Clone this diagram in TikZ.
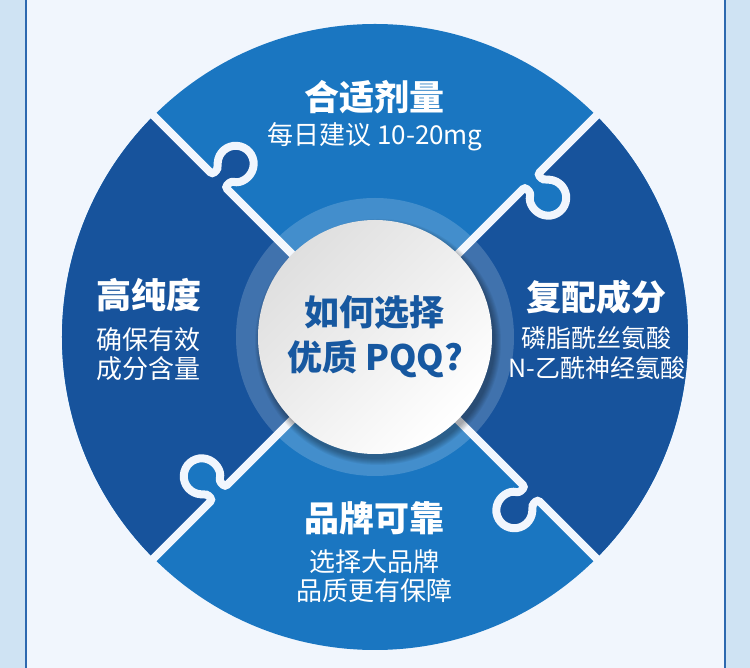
\documentclass[tikz,border=0pt]{standalone}
\usepackage{fontspec}
\newfontfamily\cjk{Noto Sans CJK SC}
\usetikzlibrary{shadows}

\definecolor{cornice}{RGB}{207,227,243}
\definecolor{sfondo}{RGB}{241,246,253}
\definecolor{bordo}{RGB}{45,105,175}
\definecolor{chiaro}{RGB}{26,118,193}
\definecolor{scuro}{RGB}{23,83,156}
\definecolor{testoblu}{RGB}{23,88,160}

\tikzset{
  titolo/.style={text=white, font=\cjk\bfseries\fontsize{35}{40}\selectfont, align=center},
  sotto/.style={text=white, font=\cjk\fontsize{26}{29}\selectfont, align=center},
}

\begin{document}
\begin{tikzpicture}[x=1pt, y=1pt]
    \useasboundingbox (-375,-331) rectangle (375,337);
    % cornice e pannello
    \fill[cornice] (-375,-331) rectangle (375,337);
    \fill[sfondo] (-349,-331) rectangle (350,337);
    \draw[bordo, line width=1.2] (-349,-331) -- (-349,337);
    \draw[bordo, line width=1.2] (350,-331) -- (350,337);

    % cerchio grande diviso in quattro pezzi di puzzle
    \fill[chiaro] (0,0) circle (313);
    \fill[scuro] (0,0) -- (135:313) arc[start angle=135, end angle=225, radius=313] -- cycle;
    \fill[scuro] (0,0) -- (-45:313) arc[start angle=-45, end angle=45, radius=313] -- cycle;
    \foreach \a/\c in {45/chiaro, 135/scuro, 225/chiaro, 315/scuro}
      \fill[\c, rotate=\a] (212,2) -- (212,-8.4) arc[start angle=120, end angle=420, radius=18] -- (230,2) -- cycle;
    \foreach \a in {45, 135, 225, 315}
      \draw[sfondo, line width=8, rounded corners=3, rotate=\a] (0,0) -- (212,0) -- (212,-8.4)
        arc[start angle=120, end angle=420, radius=18] -- (230,0) -- (330,0);

    % anello e cerchio centrale
    \fill[white, opacity=0.18] (0,0) circle (139);
    \foreach \r in {0,...,6}
      \fill[black, opacity=0.05] (3,-5) circle (117+\r);
    \node (centro) [circle, minimum size=234, inner sep=0, top color=gray!25, bottom color=white,
      shading angle=45, text=testoblu, font=\cjk\bfseries\fontsize{35}{45}\selectfont, align=center]
      at (0,0) {如何选择\\优质 PQQ?};

    % testi dei quattro pezzi
    \node[titolo] (titoloalto) at (0,240) {合适剂量};
    \node[sotto] (sottoalto) at (0,200) {每日建议 10-20mg};
    \node[titolo] (titolosx) at (-226,42) {高纯度};
    \node[sotto] (sottosx) at (-226,-17) {确保有效\\成分含量};
    \node[titolo] (titolodx) at (221,40) {复配成分};
    \node[sotto, font=\cjk\fontsize{25}{30}\selectfont] (sottodx) at (222,-16) {磷脂酰丝氨酸\\N-乙酰神经氨酸};
    \node[titolo] (titolobasso) at (0,-181) {品牌可靠};
    \node[sotto] (sottobasso) at (0,-239) {选择大品牌\\品质更有保障};
\end{tikzpicture}
\end{document}
